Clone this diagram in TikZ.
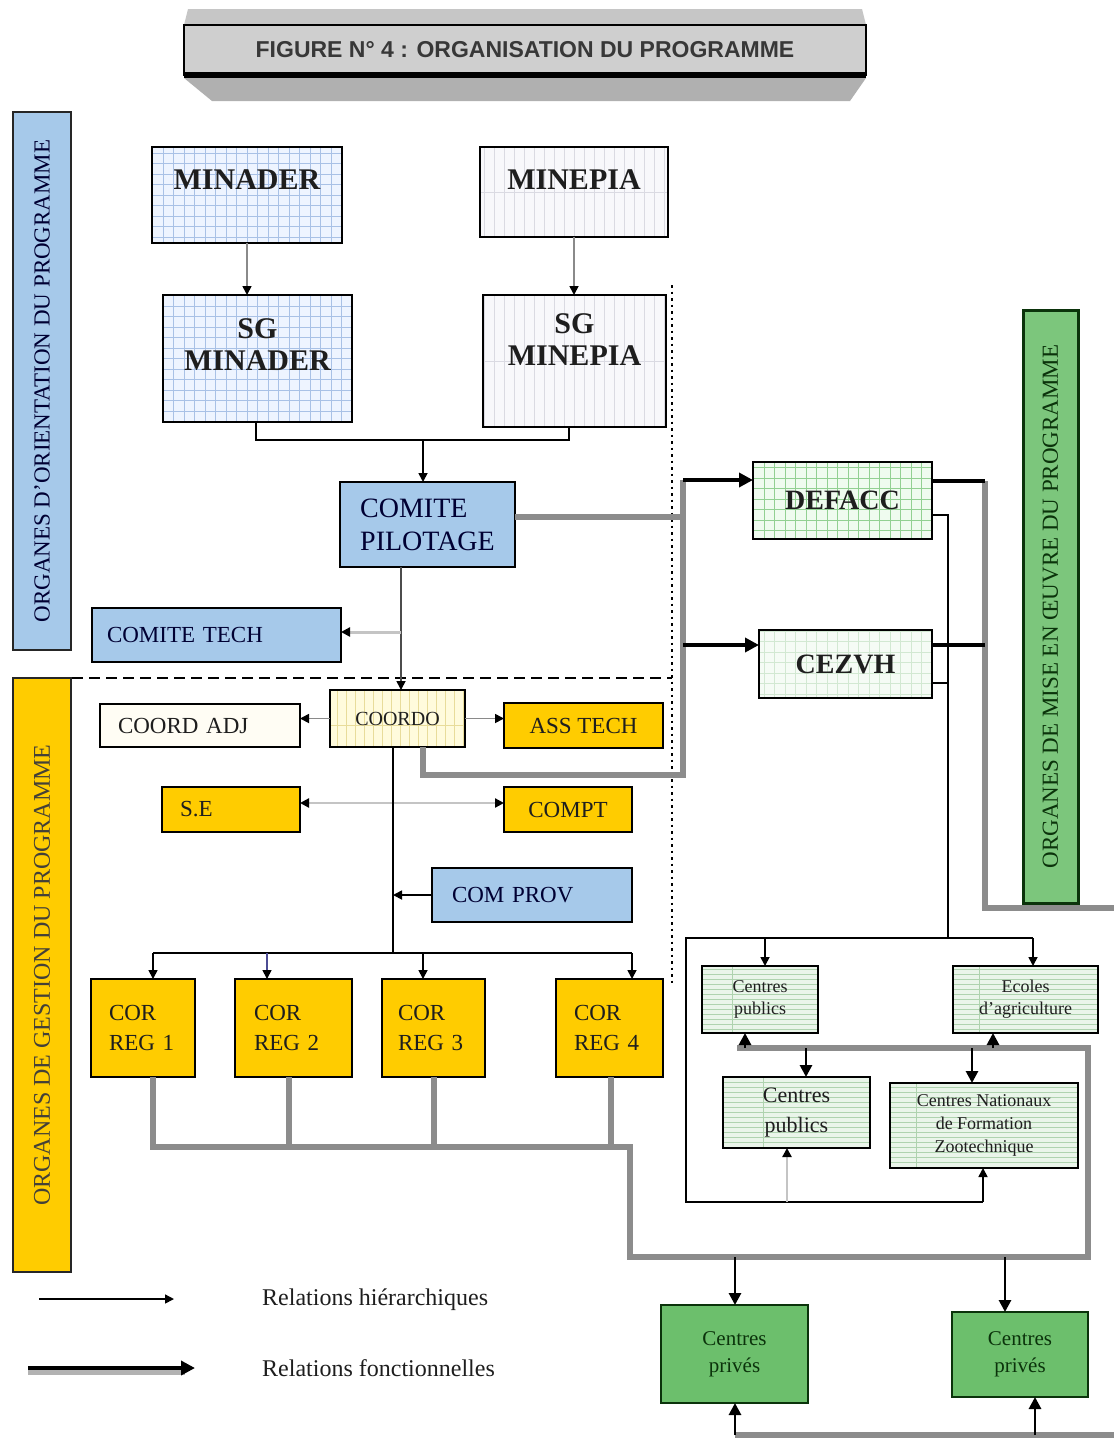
\documentclass[tikz,border=0pt]{standalone}
\usepackage{fontspec}
\setmainfont{Liberation Serif}
\newfontfamily\titlefont{Liberation Sans}
\usetikzlibrary{arrows.meta}
\newcommand\fsz[2]{\fontsize{#1pt}{#2pt}\selectfont}
\definecolor{txt}{HTML}{1E1E1E}
\definecolor{cBlue}{HTML}{A6C9EA}
\definecolor{cBlueFill}{HTML}{EEF4FF}
\definecolor{cBlueGrid}{HTML}{A9C1E6}
\definecolor{cPaleFill}{HTML}{F8F8FB}
\definecolor{cPaleGrid}{HTML}{DADAE2}
\definecolor{cYellow}{HTML}{FFCC00}
\definecolor{cYelPale}{HTML}{FFFBDC}
\definecolor{cYelGrid}{HTML}{E8DC9A}
\definecolor{cCream}{HTML}{FFFDF4}
\definecolor{cGrFill}{HTML}{EFFBEF}
\definecolor{cGrGrid}{HTML}{92D092}
\definecolor{cGrPale}{HTML}{F5FBF5}
\definecolor{cGrPaleGrid}{HTML}{D2E8D2}
\definecolor{cHFill}{HTML}{EAF5EA}
\definecolor{cHLine}{HTML}{AFD3AF}
\definecolor{cPriv}{HTML}{6CBF6C}
\definecolor{cBarGreen}{HTML}{7CC67C}
\definecolor{cDarkGreen}{HTML}{0B330B}
\definecolor{fgray}{HTML}{8C8C8C}
\definecolor{lgray}{HTML}{C4C4C4}
\definecolor{mgray}{HTML}{8A8A8A}
\begin{document}
\begin{tikzpicture}[x=1pt,y=-1pt,
  box/.style={draw=black, line width=2pt, inner sep=0pt, outer sep=0pt, text=txt, align=center},
  bluegrid/.style={fill=cBlueFill, path picture={\draw[cBlueGrid, line width=0.7pt, step=10.5pt] (path picture bounding box.south west) grid (path picture bounding box.north east);}},
  palegrid/.style={fill=cPaleFill, path picture={\draw[cPaleGrid, line width=0.7pt, xstep=10pt, ystep=3000pt] (path picture bounding box.south west) grid (path picture bounding box.north east);}},
  greengrid/.style={fill=cGrFill, path picture={\draw[cGrGrid, line width=0.7pt, step=10.5pt] (path picture bounding box.south west) grid (path picture bounding box.north east);}},
  greenpale/.style={fill=cGrPale, path picture={\draw[cGrPaleGrid, line width=0.7pt, step=10.5pt] (path picture bounding box.south west) grid (path picture bounding box.north east);}},
  yelgrid/.style={fill=cYelPale, path picture={\draw[cYelGrid, line width=0.7pt, xstep=9pt, ystep=3000pt] (path picture bounding box.south west) grid (path picture bounding box.north east);}},
  hlines/.style={fill=cHFill, path picture={\draw[cHLine, line width=0.7pt, xstep=3000pt, ystep=5pt] (path picture bounding box.south west) grid (path picture bounding box.north east);}},
  yelbox/.style={box, fill=cYellow},
  bluebox/.style={box, fill=cBlue},
  bigbold/.style={font=\fsz{30}{32}\bfseries, text=txt},
  midtxt/.style={font=\fsz{23}{26}},
  leftpad/.style 2 args={align=left, inner xsep=#1, text width=#2},
  hline/.style={draw=black, line width=1.7pt},
  harr/.style={draw=black, line width=1.7pt, -{Triangle[length=9pt,width=9pt,color=black]}},
  marr/.style={draw=black, line width=2.8pt, -{Triangle[length=12pt,width=12pt,color=black]}},
  farr/.style={draw=black, line width=3.8pt, -{Triangle[length=14pt,width=14pt,color=black]}},
  blk4/.style={draw=black, line width=3.8pt},
  fline/.style={draw=fgray, line width=6.5pt, line join=miter},
]
\useasboundingbox (0,0) rectangle (1114,1438);
\fill[white] (0,0) rectangle (1114,1438);

% ---------- title ----------
\fill[gray!45] (188,9) -- (862,9) -- (866,25) -- (184,25) -- cycle;
\fill[gray!62] (184,78) -- (866,78) -- (850,101) -- (212,101) -- cycle;
\node[draw=black, line width=2pt, fill=gray!38, minimum width=682pt, minimum height=50pt, inner sep=0pt,
      font=\titlefont\fsz{23}{25}\bfseries, text=black!78] (title) at (525,50) {FIGURE N° 4 : ORGANISATION DU PROGRAMME};
\draw[line width=6pt] (184,75) -- (866,75);

% ---------- side bars ----------
\node[draw=black!85, line width=2.5pt, fill=cBlue, rotate=90, minimum width=538pt, minimum height=58pt, inner sep=0pt,
      font=\fsz{23}{24}, text=black!80!blue] (orient) at (42,381) {ORGANES D'ORIENTATION DU PROGRAMME};
\node[draw=black!85, line width=2.5pt, fill=cYellow, rotate=90, minimum width=594pt, minimum height=58pt, inner sep=0pt,
      font=\fsz{24}{25}, text=black!85!yellow] (gestion) at (42,975) {ORGANES DE GESTION DU PROGRAMME};
\node[draw=cDarkGreen, line width=3pt, fill=cBarGreen, rotate=90, minimum width=593pt, minimum height=55pt, inner sep=0pt,
      font=\fsz{23}{24}, text=cDarkGreen] (mise) at (1050.5,606.5) {ORGANES DE MISE EN ŒUVRE DU PROGRAMME};

% ---------- separators ----------
\draw[line width=2.5pt, dash pattern=on 2.5pt off 4pt] (672,285) -- (672,985);
\draw[line width=2.5pt, dash pattern=on 11pt off 6pt] (72,678) -- (672,678);

% ---------- orientation boxes ----------
\node[box, bluegrid, minimum width=190pt, minimum height=96pt] (minader) at (247,195) {};
\node[bigbold] (minadert) at (247,180) {MINADER};
\node[box, palegrid, minimum width=188pt, minimum height=90pt] (minepia) at (574,192) {};
\node[bigbold] (minepiat) at (574,180) {MINEPIA};
\node[box, bluegrid, minimum width=189pt, minimum height=127pt] (sgminader) at (257.5,358.5) {};
\node[bigbold, align=center] (sgminadert) at (257.5,345) {SG\\MINADER};
\node[box, palegrid, minimum width=183pt, minimum height=132pt] (sgminepia) at (574.5,361) {};
\node[bigbold, align=center] (sgminepiat) at (574.5,340) {SG\\MINEPIA};

\node[bluebox, minimum width=175pt, minimum height=85pt, align=left, font=\fsz{28}{33}, text=black!80!blue] (comitep) at (427.5,524.5) {COMITE\\PILOTAGE};
\node[bluebox, minimum height=54pt, leftpad={15pt}{219pt}, font=\fsz{23}{26}, text=black!80!blue] (comitet) at (216.5,635) {COMITE TECH};

% ---------- management boxes ----------
\node[box, yelgrid, minimum width=135pt, minimum height=57pt, font=\fsz{20}{22}] (coordo) at (397.5,718.5) {COORDO};
\node[box, fill=cCream, minimum height=43pt, leftpad={18pt}{164pt}, midtxt] (coordadj) at (200,725.5) {COORD ADJ};
\node[yelbox, minimum width=159pt, minimum height=45pt, midtxt] (asstech) at (583.5,725.5) {ASS TECH};
\node[yelbox, minimum height=45pt, leftpad={18pt}{102pt}, midtxt] (se) at (231,809.5) {S.E};
\node[yelbox, minimum width=128pt, minimum height=45pt, midtxt] (compt) at (568,809.5) {COMPT};
\node[bluebox, minimum height=54pt, leftpad={20pt}{160pt}, midtxt, text=black!80!blue] (comprov) at (532,895) {COM PROV};

\node[yelbox, minimum height=98pt, leftpad={18pt}{68pt}, font=\fsz{23}{30}] (cor1) at (143,1028) {COR\\REG 1};
\node[yelbox, minimum height=98pt, leftpad={19pt}{79pt}, font=\fsz{23}{30}] (cor2) at (293.5,1028) {COR\\REG 2};
\node[yelbox, minimum height=98pt, leftpad={16pt}{71pt}, font=\fsz{23}{30}] (cor3) at (433.5,1028) {COR\\REG 3};
\node[yelbox, minimum height=98pt, leftpad={18pt}{71pt}, font=\fsz{23}{30}] (cor4) at (609.5,1028) {COR\\REG 4};

% ---------- implementation boxes ----------
\node[box, greengrid, minimum width=179pt, minimum height=77pt, font=\fsz{28}{30}\bfseries] (defacc) at (842.5,500.5) {DEFACC};
\node[box, greenpale, minimum width=173pt, minimum height=68pt, font=\fsz{28}{30}\bfseries] (cezvh) at (845.5,664) {CEZVH};
\node[box, hlines, minimum width=116pt, minimum height=67pt, font=\fsz{18}{22}] (cpub1) at (760,999.5) {Centres\\publics};
\node[box, hlines, minimum width=145pt, minimum height=67pt, font=\fsz{18}{22}] (ecoles) at (1025.5,999.5) {Ecoles\\d'agriculture};
\node[box, hlines, minimum width=147pt, minimum height=71pt, font=\fsz{22}{30}] (cpub2) at (796.5,1112.5) {Centres\\publics};
\node[box, hlines, minimum width=188pt, minimum height=85pt, font=\fsz{18}{23}] (cnfz) at (984,1125.5) {Centres Nationaux\\de Formation\\Zootechnique};
\node[box, draw=cDarkGreen, fill=cPriv, minimum width=147pt, minimum height=98pt, font=\fsz{21}{27}, text=cDarkGreen] (cpriv1) at (734.5,1354) {Centres\\privés};
\node[box, draw=cDarkGreen, fill=cPriv, minimum width=136pt, minimum height=85pt, font=\fsz{21}{27}, text=cDarkGreen] (cpriv2) at (1020,1354.5) {Centres\\privés};

% ---------- orientation connectors ----------
\draw[harr, draw=mgray] (minader.south) -- (minader.south |- sgminader.north);
\draw[harr, draw=mgray] (minepia.south) -- (minepia.south |- sgminepia.north);
\coordinate (j1) at (423,440);
\coordinate (j0) at (256,440);
\coordinate (j3) at (569,440);
\draw[hline] (j0 |- sgminader.south) -- (j0) -- (j3) -- (j3 |- sgminepia.south);
\draw[harr] (j1) -- (j1 |- comitep.north);
\coordinate (j2) at (401,632);
\draw[harr, draw=black!70] (j2 |- comitep.south) -- (j2 |- coordo.north);
\draw[harr, draw=lgray, line width=3pt] (j2) -- (j2 -| comitet.east);

% ---------- functional trunk ----------
\coordinate (t1) at (683,480);
\coordinate (t2) at (683,645);
\coordinate (t3) at (683,775);
\coordinate (t4) at (423,775);
\coordinate (t5) at (683,517);
\draw[fline] (comitep.east |- t5) -- (t5);
\draw[fline] (t1) -- (t3) -- (t4) -- (t4 |- coordo.south);
\draw[farr] (t1) -- (t1 -| defacc.west);
\draw[farr] (t2) -- (t2 -| cezvh.west);

\coordinate (r1) at (985,481);
\coordinate (r2) at (985,645);
\coordinate (r3) at (985,908);
\coordinate (r4) at (1114,908);
\draw[fline] (r1) -- (r3) -- (r4);
\draw[blk4] (defacc.east |- r1) -- (r1);
\draw[blk4] (cezvh.east |- r2) -- (r2);

% ---------- thin frame (implementation) ----------
\coordinate (s1) at (948,515);
\coordinate (s2) at (948,683);
\coordinate (s3) at (948,938);
\coordinate (s4) at (686,938);
\coordinate (s5) at (1033,938);
\coordinate (s6) at (686,1202);
\coordinate (s7) at (983,1202);
\coordinate (s8) at (765,938);
\coordinate (s9) at (787,1202);
\draw[hline] (defacc.east |- s1) -- (s1) -- (s3);
\draw[hline] (cezvh.east |- s2) -- (s2);
\draw[hline] (s5) -- (s4) -- (s6) -- (s7);
\draw[harr] (s8) -- (s8 |- cpub1.north);
\draw[harr] (s5) -- (s5 |- ecoles.north);
\draw[harr] (s7) -- (s7 |- cnfz.south);
\draw[harr, draw=lgray, line width=2.5pt] (s9) -- (s9 |- cpub2.south);

% ---------- management connectors ----------
\draw[harr, draw=mgray] (coordo.west) -- (coordo.west -| coordadj.east);
\draw[harr, draw=mgray] (coordo.east) -- (coordo.east -| asstech.west);
\coordinate (k1) at (400,803);
\draw[draw=lgray, line width=2.5pt, {Triangle[length=9pt,width=9pt,color=black]}-{Triangle[length=9pt,width=9pt,color=black]}] (k1 -| se.east) -- (k1 -| compt.west);
\coordinate (c1) at (393,953);
\draw[hline] (c1 |- coordo.south) -- (c1);
\draw[harr] (comprov.west) -- (comprov.west -| c1);
\coordinate (c2) at (153,953);
\coordinate (c3) at (632,953);
\coordinate (c4) at (267,953);
\coordinate (c5) at (423,953);
\draw[hline] (c2) -- (c3);
\draw[harr] (c2) -- (c2 |- cor1.north);
\draw[harr, draw=black!60!blue!70] (c4) -- (c4 |- cor2.north);
\draw[harr] (c5) -- (c5 |- cor3.north);
\draw[harr] (c3) -- (c3 |- cor4.north);

% ---------- bottom functional frame ----------
\coordinate (b1) at (153,1147);
\coordinate (b2) at (630,1147);
\coordinate (b3) at (630,1257);
\coordinate (b4) at (1088,1257);
\coordinate (b5) at (1088,1048);
\coordinate (b6) at (737,1048);
\coordinate (b7) at (289,1147);
\coordinate (b8) at (434,1147);
\coordinate (b9) at (611,1147);
\draw[fline] (b1 |- cor1.south) -- (b1) -- (b2) -- (b3) -- (b4) -- (b5) -- (b6);
\draw[fline] (b7 |- cor2.south) -- (b7);
\draw[fline] (b8 |- cor3.south) -- (b8);
\draw[fline] (b9 |- cor4.south) -- (b9);

\coordinate (u1) at (745,1048);
\coordinate (u2) at (806,1048);
\coordinate (u3) at (972,1048);
\coordinate (u4) at (993,1048);
\draw[marr] (u1) -- (u1 |- cpub1.south);
\draw[marr] (u2) -- (u2 |- cpub2.north);
\draw[marr] (u3) -- (u3 |- cnfz.north);
\draw[marr] (u4) -- (u4 |- ecoles.south);

\coordinate (v1) at (735,1257);
\coordinate (v2) at (1005,1257);
\draw[marr] (v1) -- (v1 |- cpriv1.north);
\draw[marr] (v2) -- (v2 |- cpriv2.north);

\coordinate (w1) at (735,1435);
\coordinate (w2) at (1035,1435);
\coordinate (w3) at (1114,1435);
\draw[fline] (w1) -- (w3);
\draw[marr] (w1) -- (w1 |- cpriv1.south);
\draw[marr] (w2) -- (w2 |- cpriv2.south);

% ---------- legend ----------
\coordinate (la1) at (39,1299);
\coordinate (la2) at (174,1299);
\draw[harr, line width=1.5pt] (la1) -- (la2);
\coordinate (lb1) at (28,1368);
\coordinate (lb2) at (195,1368);
\coordinate (lc1) at (28,1372);
\coordinate (lc2) at (185,1372);
\draw[draw=gray!60, line width=5pt] (lc1) -- (lc2);
\draw[farr, line width=4pt] (lb1) -- (lb2);
\node[anchor=west, font=\fsz{24}{26}, text=txt, inner sep=0pt] (legh) at (262,1300) {Relations hiérarchiques};
\node[anchor=west, font=\fsz{24}{26}, text=txt, inner sep=0pt] (legf) at (262,1368) {Relations fonctionnelles};
\end{tikzpicture}
\end{document}
